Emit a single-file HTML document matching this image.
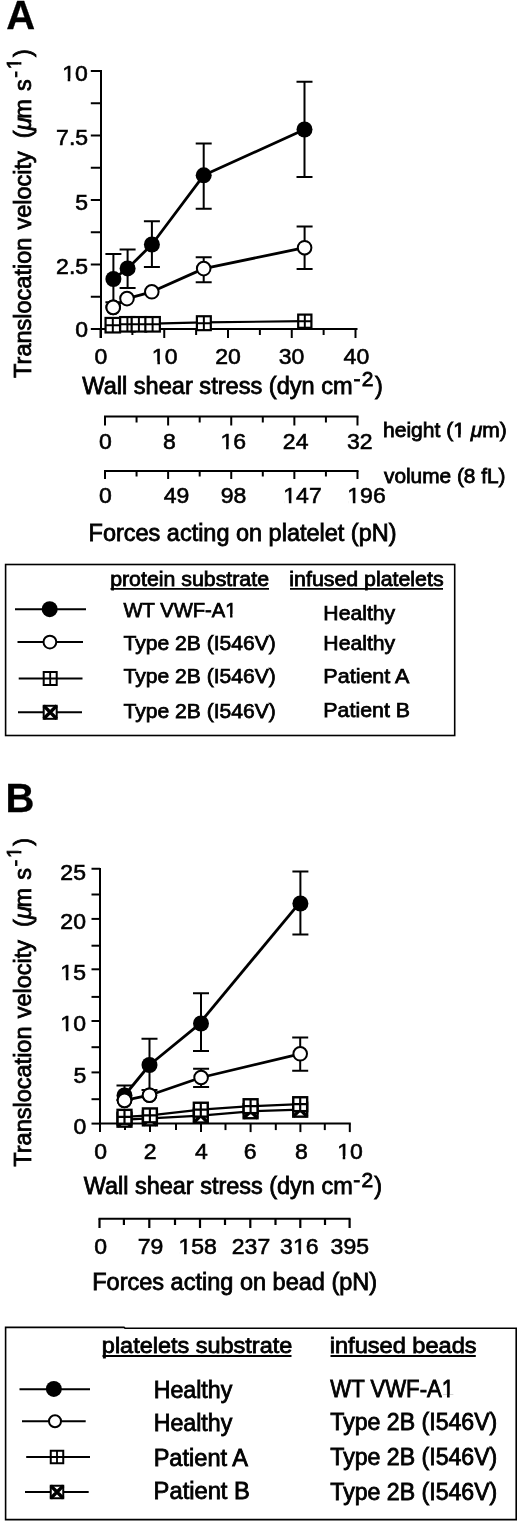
<!DOCTYPE html>
<html><head><meta charset="utf-8"><style>
html,body{margin:0;padding:0;background:#fff;overflow:hidden;}
svg{display:block;}
text{font-family:"Liberation Sans", sans-serif;fill:#000;stroke:#000;stroke-width:0.8px;}
svg{filter:grayscale(1);}
</style></head><body>
<svg width="520" height="1524" viewBox="0 0 520 1524" stroke="#000" fill="none">
<g transform="translate(30.5,376.9) rotate(-90) scale(1.0,1)"><text font-size="23.5"><tspan x="-1.00">Translocation</tspan><tspan x="147.40">velocity</tspan><tspan x="238.60">(</tspan><tspan x="246.60" font-style="italic">μ</tspan><tspan x="258.20">m</tspan><tspan x="285.85">s</tspan><tspan x="299.15" y="-9" font-size="20">-</tspan><tspan x="307.60" y="-10" font-size="20">1</tspan><tspan x="319.95" y="0">)</tspan></text><rect x="308.07" y="-12.49" width="4.21" height="4.49" fill="#fff" stroke="none"/><rect x="314.75" y="-12.49" width="4.30" height="4.49" fill="#fff" stroke="none"/></g>
<line x1="101.00" y1="70.00" x2="101.00" y2="338.00" stroke-width="2.0"/>
<line x1="100.00" y1="329.00" x2="357.50" y2="329.00" stroke-width="2.0"/>
<line x1="90.80" y1="329.00" x2="101.00" y2="329.00" stroke-width="2.0"/>
<line x1="90.80" y1="296.75" x2="101.00" y2="296.75" stroke-width="2.0"/>
<line x1="90.80" y1="264.50" x2="101.00" y2="264.50" stroke-width="2.0"/>
<line x1="90.80" y1="232.25" x2="101.00" y2="232.25" stroke-width="2.0"/>
<line x1="90.80" y1="200.00" x2="101.00" y2="200.00" stroke-width="2.0"/>
<line x1="90.80" y1="167.75" x2="101.00" y2="167.75" stroke-width="2.0"/>
<line x1="90.80" y1="135.50" x2="101.00" y2="135.50" stroke-width="2.0"/>
<line x1="90.80" y1="103.25" x2="101.00" y2="103.25" stroke-width="2.0"/>
<line x1="90.80" y1="71.00" x2="101.00" y2="71.00" stroke-width="2.0"/>
<line x1="100.50" y1="329.00" x2="100.50" y2="338.00" stroke-width="2.0"/>
<line x1="132.38" y1="329.00" x2="132.38" y2="335.00" stroke-width="2.0"/>
<line x1="164.25" y1="329.00" x2="164.25" y2="338.00" stroke-width="2.0"/>
<line x1="196.12" y1="329.00" x2="196.12" y2="335.00" stroke-width="2.0"/>
<line x1="228.00" y1="329.00" x2="228.00" y2="338.00" stroke-width="2.0"/>
<line x1="259.88" y1="329.00" x2="259.88" y2="335.00" stroke-width="2.0"/>
<line x1="291.75" y1="329.00" x2="291.75" y2="338.00" stroke-width="2.0"/>
<line x1="323.62" y1="329.00" x2="323.62" y2="335.00" stroke-width="2.0"/>
<line x1="355.50" y1="329.00" x2="355.50" y2="338.00" stroke-width="2.0"/>
<line x1="104.00" y1="416.50" x2="358.50" y2="416.50" stroke-width="2.0"/>
<line x1="105.00" y1="416.50" x2="105.00" y2="425.50" stroke-width="2.0"/>
<line x1="136.56" y1="416.50" x2="136.56" y2="422.50" stroke-width="2.0"/>
<line x1="168.12" y1="416.50" x2="168.12" y2="425.50" stroke-width="2.0"/>
<line x1="199.68" y1="416.50" x2="199.68" y2="422.50" stroke-width="2.0"/>
<line x1="231.24" y1="416.50" x2="231.24" y2="425.50" stroke-width="2.0"/>
<line x1="262.80" y1="416.50" x2="262.80" y2="422.50" stroke-width="2.0"/>
<line x1="294.36" y1="416.50" x2="294.36" y2="425.50" stroke-width="2.0"/>
<line x1="325.92" y1="416.50" x2="325.92" y2="422.50" stroke-width="2.0"/>
<line x1="357.48" y1="416.50" x2="357.48" y2="425.50" stroke-width="2.0"/>
<line x1="104.00" y1="471.00" x2="358.50" y2="471.00" stroke-width="2.0"/>
<line x1="105.00" y1="471.00" x2="105.00" y2="479.00" stroke-width="2.0"/>
<line x1="136.56" y1="471.00" x2="136.56" y2="476.50" stroke-width="2.0"/>
<line x1="168.12" y1="471.00" x2="168.12" y2="479.00" stroke-width="2.0"/>
<line x1="199.68" y1="471.00" x2="199.68" y2="476.50" stroke-width="2.0"/>
<line x1="231.24" y1="471.00" x2="231.24" y2="479.00" stroke-width="2.0"/>
<line x1="262.80" y1="471.00" x2="262.80" y2="476.50" stroke-width="2.0"/>
<line x1="294.36" y1="471.00" x2="294.36" y2="479.00" stroke-width="2.0"/>
<line x1="325.92" y1="471.00" x2="325.92" y2="476.50" stroke-width="2.0"/>
<line x1="357.48" y1="471.00" x2="357.48" y2="479.00" stroke-width="2.0"/>
<polyline points="112.8,324.6 152.6,323.6 203.85,322.4 304.8,321.1" fill="none" stroke-width="2.2" stroke-linejoin="round"/>
<rect x="105.55" y="317.95" width="14.5" height="14.5" fill="#fff" stroke-width="2.2"/>
<path d="M112.80 317.95V332.45M105.55 325.20H120.05" stroke-width="1.98"/>
<rect x="120.15" y="317.05" width="14.5" height="14.5" fill="#fff" stroke-width="2.2"/>
<path d="M127.40 317.05V331.55M120.15 324.30H134.65" stroke-width="1.98"/>
<rect x="131.65" y="317.05" width="14.5" height="14.5" fill="#fff" stroke-width="2.2"/>
<path d="M138.90 317.05V331.55M131.65 324.30H146.15" stroke-width="1.98"/>
<rect x="145.35" y="317.05" width="14.5" height="14.5" fill="#fff" stroke-width="2.2"/>
<path d="M152.60 317.05V331.55M145.35 324.30H159.85" stroke-width="1.98"/>
<rect x="196.90" y="316.25" width="13.9" height="13.9" fill="#fff" stroke-width="2.2"/>
<path d="M203.85 316.25V330.15M196.90 323.20H210.80" stroke-width="1.98"/>
<rect x="298.20" y="314.60" width="13.2" height="13.2" fill="#fff" stroke-width="2.2"/>
<path d="M304.80 314.60V327.80M298.20 321.20H311.40" stroke-width="1.98"/>
<polyline points="113.2,307.4 127,298.6 151.8,291.8 203.7,268.6 304.6,247.7" fill="none" stroke-width="2.8" stroke-linejoin="round"/>
<path d="M203.7 257.3V282.3M195.7 257.3H211.7M195.7 282.3H211.7" stroke-width="2.0"/>
<path d="M304.6 226.5V268.9M296.6 226.5H312.6M296.6 268.9H312.6" stroke-width="2.0"/>
<circle cx="113.2" cy="307.4" r="6.8" fill="#fff" stroke-width="2.0"/>
<circle cx="127" cy="298.6" r="6.8" fill="#fff" stroke-width="2.0"/>
<circle cx="151.8" cy="291.8" r="6.8" fill="#fff" stroke-width="2.0"/>
<circle cx="203.7" cy="268.6" r="6.8" fill="#fff" stroke-width="2.0"/>
<circle cx="304.6" cy="247.7" r="6.8" fill="#fff" stroke-width="2.0"/>
<path d="M113.4 254V302.2M105.4 254H121.4M105.4 302.2H121.4" stroke-width="2.0"/>
<path d="M127.6 249.6V287.9M119.6 249.6H135.6M119.6 287.9H135.6" stroke-width="2.0"/>
<path d="M151.9 221.3V267.1M143.9 221.3H159.9M143.9 267.1H159.9" stroke-width="2.0"/>
<path d="M203.7 143.5V208.7M195.7 143.5H211.7M195.7 208.7H211.7" stroke-width="2.0"/>
<path d="M304.5 81.8V177M296.5 81.8H312.5M296.5 177H312.5" stroke-width="2.0"/>
<polyline points="113.4,279 127.6,268.4 151.9,244.5 203.7,175.3 304.5,129.5" fill="none" stroke-width="2.8" stroke-linejoin="round"/>
<circle cx="113.4" cy="279" r="8" fill="#000" stroke="none"/>
<circle cx="127.6" cy="268.4" r="8" fill="#000" stroke="none"/>
<circle cx="151.9" cy="244.5" r="8" fill="#000" stroke="none"/>
<circle cx="203.7" cy="175.3" r="8" fill="#000" stroke="none"/>
<circle cx="304.5" cy="129.5" r="8" fill="#000" stroke="none"/>
<circle cx="113.2" cy="307.4" r="6.8" fill="#fff" stroke-width="2.0"/>
<rect x="5.6" y="564.5" width="449.1" height="171" fill="none" stroke-width="1.6"/>
<line x1="110.50" y1="588.80" x2="269.00" y2="588.80" stroke-width="1.8"/>
<line x1="290.00" y1="588.80" x2="443.00" y2="588.80" stroke-width="1.8"/>
<line x1="15.00" y1="609.20" x2="86.00" y2="609.20" stroke-width="2"/>
<circle cx="49.7" cy="609.2" r="8" fill="#000" stroke="none"/>
<line x1="17.50" y1="642.00" x2="83.00" y2="642.00" stroke-width="2"/>
<circle cx="49.9" cy="642.1" r="6.4" fill="#fff" stroke-width="2"/>
<line x1="18.70" y1="678.50" x2="82.50" y2="678.50" stroke-width="2"/>
<rect x="43.70" y="672.00" width="13" height="13" fill="#fff" stroke-width="2"/>
<path d="M50.20 672.00V685.00M43.70 678.50H56.70" stroke-width="1.80"/>
<line x1="18.00" y1="712.30" x2="82.00" y2="712.30" stroke-width="2"/>
<rect x="43.70" y="705.80" width="13" height="13" fill="#fff" stroke-width="2"/>
<path d="M43.70 705.80L56.70 718.80M56.70 705.80L43.70 718.80" stroke-width="3.4"/>
<g transform="translate(31.2,1165.7) rotate(-90) scale(1.0,1)"><text font-size="23.5"><tspan x="-1.00">Translocation</tspan><tspan x="147.40">velocity</tspan><tspan x="238.60">(</tspan><tspan x="246.60" font-style="italic">μ</tspan><tspan x="258.20">m</tspan><tspan x="285.85">s</tspan><tspan x="299.15" y="-9" font-size="20">-</tspan><tspan x="307.60" y="-10" font-size="20">1</tspan><tspan x="319.95" y="0">)</tspan></text><rect x="308.07" y="-12.49" width="4.21" height="4.49" fill="#fff" stroke="none"/><rect x="314.75" y="-12.49" width="4.30" height="4.49" fill="#fff" stroke="none"/></g>
<line x1="100.00" y1="868.00" x2="100.00" y2="1132.00" stroke-width="2.0"/>
<line x1="99.00" y1="1123.60" x2="350.80" y2="1123.60" stroke-width="2.0"/>
<line x1="91.50" y1="1123.60" x2="100.00" y2="1123.60" stroke-width="2.0"/>
<line x1="91.50" y1="1099.20" x2="100.00" y2="1099.20" stroke-width="2.0"/>
<line x1="91.50" y1="1072.40" x2="100.00" y2="1072.40" stroke-width="2.0"/>
<line x1="91.50" y1="1047.20" x2="100.00" y2="1047.20" stroke-width="2.0"/>
<line x1="91.50" y1="1021.00" x2="100.00" y2="1021.00" stroke-width="2.0"/>
<line x1="91.50" y1="996.90" x2="100.00" y2="996.90" stroke-width="2.0"/>
<line x1="91.50" y1="969.30" x2="100.00" y2="969.30" stroke-width="2.0"/>
<line x1="91.50" y1="945.70" x2="100.00" y2="945.70" stroke-width="2.0"/>
<line x1="91.50" y1="918.90" x2="100.00" y2="918.90" stroke-width="2.0"/>
<line x1="91.50" y1="894.50" x2="100.00" y2="894.50" stroke-width="2.0"/>
<line x1="91.50" y1="868.75" x2="100.00" y2="868.75" stroke-width="2.0"/>
<line x1="100.00" y1="1123.60" x2="100.00" y2="1132.10" stroke-width="2.0"/>
<line x1="125.00" y1="1123.60" x2="125.00" y2="1130.10" stroke-width="2.0"/>
<line x1="150.00" y1="1123.60" x2="150.00" y2="1132.10" stroke-width="2.0"/>
<line x1="176.00" y1="1123.60" x2="176.00" y2="1130.10" stroke-width="2.0"/>
<line x1="201.00" y1="1123.60" x2="201.00" y2="1132.10" stroke-width="2.0"/>
<line x1="225.50" y1="1123.60" x2="225.50" y2="1130.10" stroke-width="2.0"/>
<line x1="250.60" y1="1123.60" x2="250.60" y2="1132.10" stroke-width="2.0"/>
<line x1="275.80" y1="1123.60" x2="275.80" y2="1130.10" stroke-width="2.0"/>
<line x1="300.40" y1="1123.60" x2="300.40" y2="1132.10" stroke-width="2.0"/>
<line x1="324.80" y1="1123.60" x2="324.80" y2="1130.10" stroke-width="2.0"/>
<line x1="349.80" y1="1123.60" x2="349.80" y2="1132.10" stroke-width="2.0"/>
<line x1="98.50" y1="1218.70" x2="350.50" y2="1218.70" stroke-width="2.0"/>
<line x1="99.50" y1="1218.70" x2="99.50" y2="1228.00" stroke-width="2.2"/>
<line x1="123.90" y1="1218.70" x2="123.90" y2="1225.00" stroke-width="2.2"/>
<line x1="149.30" y1="1218.70" x2="149.30" y2="1228.00" stroke-width="2.2"/>
<line x1="175.00" y1="1218.70" x2="175.00" y2="1225.00" stroke-width="2.2"/>
<line x1="200.00" y1="1218.70" x2="200.00" y2="1228.00" stroke-width="2.2"/>
<line x1="225.00" y1="1218.70" x2="225.00" y2="1225.00" stroke-width="2.2"/>
<line x1="250.30" y1="1218.70" x2="250.30" y2="1228.00" stroke-width="2.2"/>
<line x1="275.50" y1="1218.70" x2="275.50" y2="1225.00" stroke-width="2.2"/>
<line x1="300.30" y1="1218.70" x2="300.30" y2="1228.00" stroke-width="2.2"/>
<line x1="325.00" y1="1218.70" x2="325.00" y2="1225.00" stroke-width="2.2"/>
<line x1="349.60" y1="1218.70" x2="349.60" y2="1228.00" stroke-width="2.2"/>
<polyline points="124.5,1119.7 149.9,1118.4 200.8,1115.6 250.6,1111.3 300.2,1109.7" fill="none" stroke-width="2.2" stroke-linejoin="round"/>
<rect x="117.55" y="1112.75" width="13.9" height="13.9" fill="#fff" stroke-width="2.4"/>
<path d="M117.55 1112.75L131.45 1126.65M131.45 1112.75L117.55 1126.65" stroke-width="3.4"/>
<rect x="142.95" y="1111.45" width="13.9" height="13.9" fill="#fff" stroke-width="2.4"/>
<path d="M142.95 1111.45L156.85 1125.35M156.85 1111.45L142.95 1125.35" stroke-width="3.4"/>
<rect x="193.85" y="1108.65" width="13.9" height="13.9" fill="#fff" stroke-width="2.4"/>
<path d="M193.85 1108.65L207.75 1122.55M207.75 1108.65L193.85 1122.55" stroke-width="3.4"/>
<rect x="243.65" y="1104.35" width="13.9" height="13.9" fill="#fff" stroke-width="2.4"/>
<path d="M243.65 1104.35L257.55 1118.25M257.55 1104.35L243.65 1118.25" stroke-width="3.4"/>
<rect x="293.25" y="1102.75" width="13.9" height="13.9" fill="#fff" stroke-width="2.4"/>
<path d="M293.25 1102.75L307.15 1116.65M307.15 1102.75L293.25 1116.65" stroke-width="3.4"/>
<polyline points="124.5,1116.8 149.9,1115.4 200.8,1109.7 250.6,1106.2 300.2,1104.2" fill="none" stroke-width="2.2" stroke-linejoin="round"/>
<rect x="117.55" y="1109.85" width="13.9" height="13.9" fill="#fff" stroke-width="2.4"/>
<path d="M124.50 1109.85V1123.75M117.55 1116.80H131.45" stroke-width="2.16"/>
<rect x="142.95" y="1108.45" width="13.9" height="13.9" fill="#fff" stroke-width="2.4"/>
<path d="M149.90 1108.45V1122.35M142.95 1115.40H156.85" stroke-width="2.16"/>
<rect x="193.85" y="1102.75" width="13.9" height="13.9" fill="#fff" stroke-width="2.4"/>
<path d="M200.80 1102.75V1116.65M193.85 1109.70H207.75" stroke-width="2.16"/>
<rect x="243.65" y="1099.25" width="13.9" height="13.9" fill="#fff" stroke-width="2.4"/>
<path d="M250.60 1099.25V1113.15M243.65 1106.20H257.55" stroke-width="2.16"/>
<rect x="293.25" y="1097.25" width="13.9" height="13.9" fill="#fff" stroke-width="2.4"/>
<path d="M300.20 1097.25V1111.15M293.25 1104.20H307.15" stroke-width="2.16"/>
<polyline points="124.5,1100.4 149.5,1095.2 201.1,1077.5 300.2,1053.8" fill="none" stroke-width="2.8" stroke-linejoin="round"/>
<path d="M201.1 1068.8V1087M193.1 1068.8H209.1M193.1 1087H209.1" stroke-width="2.0"/>
<path d="M300.2 1037.5V1070.8M292.2 1037.5H308.2M292.2 1070.8H308.2" stroke-width="2.0"/>
<circle cx="124.5" cy="1100.4" r="6.8" fill="#fff" stroke-width="2.0"/>
<circle cx="149.5" cy="1095.2" r="6.8" fill="#fff" stroke-width="2.0"/>
<circle cx="201.1" cy="1077.5" r="6.8" fill="#fff" stroke-width="2.0"/>
<circle cx="300.2" cy="1053.8" r="6.8" fill="#fff" stroke-width="2.0"/>
<path d="M124.5 1085.6V1100M116.5 1085.6H132.5M116.5 1100H132.5" stroke-width="2.0"/>
<path d="M149.5 1038.7V1090M141.5 1038.7H157.5M141.5 1090H157.5" stroke-width="2.0"/>
<path d="M201 993.2V1051M193 993.2H209M193 1051H209" stroke-width="2.0"/>
<path d="M300.4 871.5V934.6M292.4 871.5H308.4M292.4 934.6H308.4" stroke-width="2.0"/>
<polyline points="124.5,1095.5 149.5,1065 201,1022.8" fill="none" stroke-width="2.8" stroke-linejoin="round"/>
<polyline points="201,1021.6 300.4,901.8" fill="none" stroke-width="2.8" stroke-linejoin="round"/>
<circle cx="124.5" cy="1095.5" r="8" fill="#000" stroke="none"/>
<circle cx="149.5" cy="1065" r="8" fill="#000" stroke="none"/>
<circle cx="201" cy="1023.5" r="8" fill="#000" stroke="none"/>
<circle cx="300.4" cy="903.5" r="8" fill="#000" stroke="none"/>
<circle cx="124.5" cy="1100.4" r="6.8" fill="#fff" stroke-width="2.0"/>
<circle cx="149.5" cy="1095.2" r="6.8" fill="#fff" stroke-width="2.0"/>
<path d="M5.6 1327.4 H124 L125 1328.2 H516.2 V1519.6 H5.6 Z" fill="none" stroke-width="1.6"/>
<line x1="102.50" y1="1356.00" x2="291.50" y2="1356.00" stroke-width="1.8"/>
<line x1="330.50" y1="1356.00" x2="475.80" y2="1356.00" stroke-width="1.8"/>
<line x1="19.50" y1="1389.20" x2="90.00" y2="1389.20" stroke-width="2"/>
<circle cx="53.85" cy="1388.9" r="8" fill="#000" stroke="none"/>
<line x1="22.00" y1="1421.20" x2="85.70" y2="1421.20" stroke-width="2"/>
<circle cx="55" cy="1421.2" r="6" fill="#fff" stroke-width="2"/>
<line x1="26.20" y1="1457.00" x2="90.00" y2="1457.00" stroke-width="2"/>
<rect x="50.75" y="1450.75" width="12.5" height="12.5" fill="#fff" stroke-width="2"/>
<path d="M57.00 1450.75V1463.25M50.75 1457.00H63.25" stroke-width="1.80"/>
<line x1="25.00" y1="1492.00" x2="88.70" y2="1492.00" stroke-width="2"/>
<rect x="50.75" y="1485.75" width="12.5" height="12.5" fill="#fff" stroke-width="2"/>
<path d="M50.75 1485.75L63.25 1498.25M63.25 1485.75L50.75 1498.25" stroke-width="3.4"/>
<text x="6.20" y="29.30" font-size="40" font-weight="bold" style="stroke-width:0.3px">A</text>
<text x="62.15" y="81.10" font-size="22.8" textLength="25.61" lengthAdjust="spacingAndGlyphs" style="stroke-width:0.6px">10</text><rect x="62.95" y="78.50" width="4.74" height="4.50" fill="#fff" stroke="none"/><rect x="70.23" y="78.50" width="4.81" height="4.50" fill="#fff" stroke="none"/>
<text x="56.09" y="144.60" font-size="22.8" textLength="32.02" lengthAdjust="spacingAndGlyphs" style="stroke-width:0.6px">7.5</text>
<text x="75.28" y="209.80" font-size="22.8" textLength="12.81" lengthAdjust="spacingAndGlyphs" style="stroke-width:0.6px">5</text>
<text x="56.09" y="273.50" font-size="22.8" textLength="32.02" lengthAdjust="spacingAndGlyphs" style="stroke-width:0.6px">2.5</text>
<text x="75.28" y="337.10" font-size="22.8" textLength="12.81" lengthAdjust="spacingAndGlyphs" style="stroke-width:0.6px">0</text>
<text x="94.44" y="364.00" font-size="22.8" textLength="12.81" lengthAdjust="spacingAndGlyphs" style="stroke-width:0.6px">0</text>
<text x="151.87" y="364.00" font-size="22.8" textLength="25.61" lengthAdjust="spacingAndGlyphs" style="stroke-width:0.6px">10</text><rect x="152.67" y="361.40" width="4.74" height="4.50" fill="#fff" stroke="none"/><rect x="159.95" y="361.40" width="4.81" height="4.50" fill="#fff" stroke="none"/>
<text x="215.17" y="364.00" font-size="22.8" textLength="25.61" lengthAdjust="spacingAndGlyphs" style="stroke-width:0.6px">20</text>
<text x="278.77" y="364.00" font-size="22.8" textLength="25.61" lengthAdjust="spacingAndGlyphs" style="stroke-width:0.6px">30</text>
<text x="343.62" y="364.00" font-size="22.8" textLength="25.61" lengthAdjust="spacingAndGlyphs" style="stroke-width:0.6px">40</text>
<text x="82.30" y="394.00" font-size="23.5" textLength="270.34" lengthAdjust="spacingAndGlyphs" >Wall shear stress (dyn cm</text>
<text x="353.40" y="386.30" font-size="21" >-</text>
<text x="361.80" y="386.30" font-size="21" >2</text>
<text x="375.00" y="394.00" font-size="23.5" >)</text>
<text x="98.94" y="449.00" font-size="22.8" textLength="12.81" lengthAdjust="spacingAndGlyphs" style="stroke-width:0.6px">0</text>
<text x="162.94" y="449.00" font-size="22.8" textLength="12.81" lengthAdjust="spacingAndGlyphs" style="stroke-width:0.6px">8</text>
<text x="220.56" y="449.00" font-size="22.8" textLength="25.61" lengthAdjust="spacingAndGlyphs" style="stroke-width:0.6px">16</text><rect x="221.36" y="446.40" width="4.74" height="4.50" fill="#fff" stroke="none"/><rect x="228.64" y="446.40" width="4.81" height="4.50" fill="#fff" stroke="none"/>
<text x="282.87" y="449.00" font-size="22.8" textLength="25.61" lengthAdjust="spacingAndGlyphs" style="stroke-width:0.6px">24</text>
<text x="346.98" y="449.00" font-size="22.8" textLength="25.61" lengthAdjust="spacingAndGlyphs" style="stroke-width:0.6px">32</text>
<text x="383.00" y="437.00" font-size="21" textLength="123.78" lengthAdjust="spacingAndGlyphs" >height (1 <tspan font-style="italic">μ</tspan>m)</text><rect x="453.70" y="434.43" width="4.39" height="4.57" fill="#fff" stroke="none"/><rect x="460.66" y="434.43" width="4.48" height="4.57" fill="#fff" stroke="none"/>
<text x="98.94" y="503.30" font-size="22.8" textLength="12.81" lengthAdjust="spacingAndGlyphs" style="stroke-width:0.6px">0</text>
<text x="163.68" y="503.30" font-size="22.8" textLength="25.61" lengthAdjust="spacingAndGlyphs" style="stroke-width:0.6px">49</text>
<text x="220.67" y="503.30" font-size="22.8" textLength="25.61" lengthAdjust="spacingAndGlyphs" style="stroke-width:0.6px">98</text>
<text x="283.31" y="503.30" font-size="22.8" textLength="38.43" lengthAdjust="spacingAndGlyphs" style="stroke-width:0.6px">147</text><rect x="284.12" y="500.70" width="4.74" height="4.50" fill="#fff" stroke="none"/><rect x="291.39" y="500.70" width="4.81" height="4.50" fill="#fff" stroke="none"/>
<text x="347.31" y="503.30" font-size="22.8" textLength="38.43" lengthAdjust="spacingAndGlyphs" style="stroke-width:0.6px">196</text><rect x="348.12" y="500.70" width="4.74" height="4.50" fill="#fff" stroke="none"/><rect x="355.39" y="500.70" width="4.81" height="4.50" fill="#fff" stroke="none"/>
<text x="384.00" y="483.30" font-size="21" textLength="121.53" lengthAdjust="spacingAndGlyphs" >volume (8 fL)</text>
<text x="88.60" y="540.80" font-size="23.5" textLength="307.86" lengthAdjust="spacingAndGlyphs" >Forces acting on platelet (pN)</text>
<text x="110.16" y="585.80" font-size="20.6" textLength="158.86" lengthAdjust="spacingAndGlyphs" >protein substrate</text>
<text x="289.36" y="585.80" font-size="20.6" textLength="154.21" lengthAdjust="spacingAndGlyphs" >infused platelets</text>
<text x="123.50" y="616.50" font-size="21" textLength="113.04" lengthAdjust="spacingAndGlyphs" style="stroke-width:0.75px">WT VWF-A1</text><rect x="225.79" y="613.96" width="4.25" height="4.52" fill="#fff" stroke="none"/><rect x="232.48" y="613.96" width="4.34" height="4.52" fill="#fff" stroke="none"/>
<text x="123.50" y="649.50" font-size="21" textLength="152.35" lengthAdjust="spacingAndGlyphs" style="stroke-width:0.75px">Type 2B (I546V)</text>
<text x="123.50" y="682.80" font-size="21" textLength="152.35" lengthAdjust="spacingAndGlyphs" style="stroke-width:0.75px">Type 2B (I546V)</text>
<text x="123.50" y="717.60" font-size="21" textLength="152.35" lengthAdjust="spacingAndGlyphs" style="stroke-width:0.75px">Type 2B (I546V)</text>
<text x="323.38" y="620.00" font-size="21" textLength="71.82" lengthAdjust="spacingAndGlyphs" style="stroke-width:0.75px">Healthy</text>
<text x="323.38" y="649.80" font-size="21" textLength="71.82" lengthAdjust="spacingAndGlyphs" style="stroke-width:0.75px">Healthy</text>
<text x="323.35" y="682.50" font-size="21" textLength="86.11" lengthAdjust="spacingAndGlyphs" style="stroke-width:0.75px">Patient A</text>
<text x="323.37" y="716.50" font-size="21" textLength="86.69" lengthAdjust="spacingAndGlyphs" style="stroke-width:0.75px">Patient B</text>
<text x="5.40" y="811.80" font-size="40" font-weight="bold" style="stroke-width:0.3px">B</text>
<text x="60.35" y="880.00" font-size="22.8" textLength="25.61" lengthAdjust="spacingAndGlyphs" style="stroke-width:0.6px">25</text>
<text x="60.35" y="929.00" font-size="22.8" textLength="25.61" lengthAdjust="spacingAndGlyphs" style="stroke-width:0.6px">20</text>
<text x="60.35" y="980.20" font-size="22.8" textLength="25.61" lengthAdjust="spacingAndGlyphs" style="stroke-width:0.6px">15</text><rect x="61.15" y="977.60" width="4.74" height="4.50" fill="#fff" stroke="none"/><rect x="68.43" y="977.60" width="4.81" height="4.50" fill="#fff" stroke="none"/>
<text x="60.35" y="1031.30" font-size="22.8" textLength="25.61" lengthAdjust="spacingAndGlyphs" style="stroke-width:0.6px">10</text><rect x="61.15" y="1028.70" width="4.74" height="4.50" fill="#fff" stroke="none"/><rect x="68.43" y="1028.70" width="4.81" height="4.50" fill="#fff" stroke="none"/>
<text x="73.48" y="1082.50" font-size="22.8" textLength="12.81" lengthAdjust="spacingAndGlyphs" style="stroke-width:0.6px">5</text>
<text x="73.48" y="1133.60" font-size="22.8" textLength="12.81" lengthAdjust="spacingAndGlyphs" style="stroke-width:0.6px">0</text>
<text x="94.23" y="1158.50" font-size="22.8" textLength="12.81" lengthAdjust="spacingAndGlyphs" style="stroke-width:0.6px">0</text>
<text x="143.84" y="1158.50" font-size="22.8" textLength="12.81" lengthAdjust="spacingAndGlyphs" style="stroke-width:0.6px">2</text>
<text x="194.94" y="1158.50" font-size="22.8" textLength="12.81" lengthAdjust="spacingAndGlyphs" style="stroke-width:0.6px">4</text>
<text x="243.84" y="1158.50" font-size="22.8" textLength="12.81" lengthAdjust="spacingAndGlyphs" style="stroke-width:0.6px">6</text>
<text x="294.94" y="1158.50" font-size="22.8" textLength="12.81" lengthAdjust="spacingAndGlyphs" style="stroke-width:0.6px">8</text>
<text x="337.17" y="1158.50" font-size="22.8" textLength="25.61" lengthAdjust="spacingAndGlyphs" style="stroke-width:0.6px">10</text><rect x="337.97" y="1155.90" width="4.74" height="4.50" fill="#fff" stroke="none"/><rect x="345.25" y="1155.90" width="4.81" height="4.50" fill="#fff" stroke="none"/>
<text x="83.75" y="1193.60" font-size="23.5" textLength="268.93" lengthAdjust="spacingAndGlyphs" >Wall shear stress (dyn cm</text>
<text x="353.20" y="1186.60" font-size="21" >-</text>
<text x="361.40" y="1186.60" font-size="21" >2</text>
<text x="374.35" y="1193.60" font-size="23.5" >)</text>
<text x="94.23" y="1254.30" font-size="22.8" textLength="12.81" lengthAdjust="spacingAndGlyphs" style="stroke-width:0.6px">0</text>
<text x="137.78" y="1254.30" font-size="22.8" textLength="25.61" lengthAdjust="spacingAndGlyphs" style="stroke-width:0.6px">79</text>
<text x="178.50" y="1254.30" font-size="22.8" textLength="38.43" lengthAdjust="spacingAndGlyphs" style="stroke-width:0.6px">158</text><rect x="179.31" y="1251.70" width="4.74" height="4.50" fill="#fff" stroke="none"/><rect x="186.58" y="1251.70" width="4.81" height="4.50" fill="#fff" stroke="none"/>
<text x="231.81" y="1254.30" font-size="22.8" textLength="38.43" lengthAdjust="spacingAndGlyphs" style="stroke-width:0.6px">237</text>
<text x="280.11" y="1254.30" font-size="22.8" textLength="38.43" lengthAdjust="spacingAndGlyphs" style="stroke-width:0.6px">316</text><rect x="293.71" y="1251.70" width="4.74" height="4.50" fill="#fff" stroke="none"/><rect x="300.99" y="1251.70" width="4.81" height="4.50" fill="#fff" stroke="none"/>
<text x="330.61" y="1254.30" font-size="22.8" textLength="38.43" lengthAdjust="spacingAndGlyphs" style="stroke-width:0.6px">395</text>
<text x="92.20" y="1289.70" font-size="23.5" textLength="284.97" lengthAdjust="spacingAndGlyphs" >Forces acting on bead (pN)</text>
<text x="101.84" y="1353.20" font-size="22.2" textLength="190.50" lengthAdjust="spacingAndGlyphs" >platelets substrate</text>
<text x="329.74" y="1353.20" font-size="22.2" textLength="146.91" lengthAdjust="spacingAndGlyphs" >infused beads</text>
<text x="153.68" y="1397.70" font-size="23" textLength="78.60" lengthAdjust="spacingAndGlyphs" style="stroke-width:0.8px">Healthy</text>
<text x="153.68" y="1431.20" font-size="23" textLength="78.60" lengthAdjust="spacingAndGlyphs" style="stroke-width:0.8px">Healthy</text>
<text x="153.65" y="1465.80" font-size="23" textLength="94.43" lengthAdjust="spacingAndGlyphs" style="stroke-width:0.8px">Patient A</text>
<text x="153.64" y="1499.20" font-size="23" textLength="96.25" lengthAdjust="spacingAndGlyphs" style="stroke-width:0.8px">Patient B</text>
<text x="330.30" y="1397.40" font-size="23" textLength="123.80" lengthAdjust="spacingAndGlyphs" style="stroke-width:0.8px">WT VWF-A1</text><rect x="442.42" y="1394.68" width="4.58" height="4.72" fill="#fff" stroke="none"/><rect x="449.66" y="1394.68" width="4.66" height="4.72" fill="#fff" stroke="none"/>
<text x="330.30" y="1430.40" font-size="23" textLength="167.01" lengthAdjust="spacingAndGlyphs" style="stroke-width:0.8px">Type 2B (I546V)</text>
<text x="330.30" y="1465.00" font-size="23" textLength="167.01" lengthAdjust="spacingAndGlyphs" style="stroke-width:0.8px">Type 2B (I546V)</text>
<text x="330.30" y="1499.60" font-size="23" textLength="167.01" lengthAdjust="spacingAndGlyphs" style="stroke-width:0.8px">Type 2B (I546V)</text>
</svg>
</body></html>
